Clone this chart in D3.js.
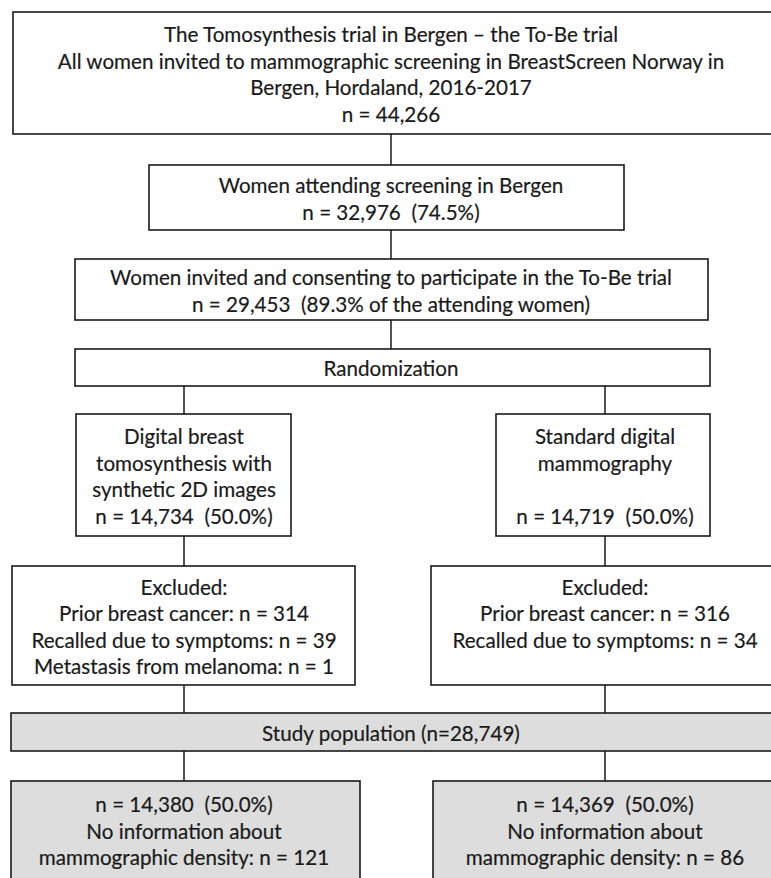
<!DOCTYPE html>
<html>
<head>
<meta charset="utf-8">
<script src="https://cdn.jsdelivr.net/npm/d3@7"></script>
<style>
  body { margin: 0; background: #fff; }
  svg text { white-space: pre; }
</style>
</head>
<body>
<div id="chart"></div>
<script>
// counts
const invitedN = 44266;
const attendingN = 32976, attendingPct = 74.5;
const consentN = 29453, consentPct = 89.3;
const armNames = ["DBT", "SDM"];
const armTitles = [["Digital breast", "tomosynthesis with", "synthetic 2D images"], ["Standard digital", "mammography", ""]];
const armN = [14734, 14719];
const armPct = [50.0, 50.0];
const priorCancer = [314, 316];
const recalledSymptoms = [39, 34];
const melanoma = [1, null];
const studyN = 28749;
const finalN = [14380, 14369];
const finalPct = [50.0, 50.0];
const noDensity = [121, 86];

const fmt = d3.format(",");
const pct = d3.format(".1f");

// node texts built from the arrays
const nodes = [
  { id: "invited", col: "center", fill: false, lines: [
      "The Tomosynthesis trial in Bergen \u2013 the To-Be trial",
      "All women invited to mammographic screening in BreastScreen Norway in",
      "Bergen, Hordaland, 2016-2017",
      `n = ${fmt(invitedN)}`] },
  { id: "attending", col: "center", fill: false, lines: [
      "Women attending screening in Bergen",
      `n = ${fmt(attendingN)}  (${pct(attendingPct)}%)`] },
  { id: "consenting", col: "center", fill: false, lines: [
      "Women invited and consenting to participate in the To-Be trial",
      `n = ${fmt(consentN)}  (${pct(consentPct)}% of the attending women)`] },
  { id: "random", col: "center", fill: false, lines: ["Randomization"] },
  { id: "study", col: "center", fill: true, lines: [`Study population (n=${fmt(studyN)})`] }
];
armNames.forEach((a, i) => {
  const col = i === 0 ? "left" : "right";
  nodes.push({ id: "arm" + a, col, fill: false,
    lines: armTitles[i].concat([`n = ${fmt(armN[i])}  (${pct(armPct[i])}%)`]) });
  const ex = ["Excluded:", `Prior breast cancer: n = ${priorCancer[i]}`,
              `Recalled due to symptoms: n = ${recalledSymptoms[i]}`];
  ex.push(melanoma[i] != null ? `Metastasis from melanoma: n = ${melanoma[i]}` : "");
  nodes.push({ id: "excl" + a, col, fill: false, lines: ex });
  nodes.push({ id: "final" + a, col, fill: true, lines: [
      `n = ${fmt(finalN[i])}  (${pct(finalPct[i])}%)`,
      "No information about",
      `mammographic density: n = ${noDensity[i]}`] });
});

const links = [
  ["invited", "attending"], ["attending", "consenting"], ["consenting", "random"],
  ["random", "armDBT"], ["random", "armSDM"],
  ["armDBT", "exclDBT"], ["armSDM", "exclSDM"],
  ["exclDBT", "study"], ["exclSDM", "study"],
  ["study", "finalDBT"], ["study", "finalSDM"]
];

// layout
const width = 771, height = 878;
const colX = d3.scaleOrdinal().domain(["left", "center", "right"]).range([184, 391, 605]);
const boxes = {
  invited:    { x0: 13,  x1: 775, y0: 12,  y1: 134 },
  attending:  { x0: 149, x1: 624, y0: 165, y1: 230 },
  consenting: { x0: 75,  x1: 708, y0: 259, y1: 320 },
  random:     { x0: 75,  x1: 710, y0: 349, y1: 386 },
  armDBT:     { x0: 76,  x1: 291, y0: 414, y1: 536 },
  armSDM:     { x0: 496, x1: 710, y0: 414, y1: 536 },
  exclDBT:    { x0: 12,  x1: 355, y0: 566, y1: 685 },
  exclSDM:    { x0: 431, x1: 775, y0: 566, y1: 685 },
  study:      { x0: 11,  x1: 775, y0: 713, y1: 751 },
  finalDBT:   { x0: 11,  x1: 360, y0: 781, y1: 879 },
  finalSDM:   { x0: 433, x1: 775, y0: 781, y1: 879 }
};
const lineH = 26.5, fontSize = 20.5;
const ink = "#1a1a1a";

const svg = d3.select("#chart").append("svg")
  .attr("width", width).attr("height", height)
  .style("font-family", "Lato, 'Open Sans', sans-serif");

// connectors (drawn first, boxes cover the ends)
const byId = Object.fromEntries(nodes.map(n => [n.id, n]));
svg.append("g").selectAll("line")
  .data(links)
  .join("line")
  .attr("x1", d => colX(byId[d[0]].col === "center" ? byId[d[1]].col : byId[d[0]].col))
  .attr("x2", d => colX(byId[d[0]].col === "center" ? byId[d[1]].col : byId[d[0]].col))
  .attr("y1", d => boxes[d[0]].y1)
  .attr("y2", d => boxes[d[1]].y0)
  .attr("stroke", ink).attr("stroke-width", 1.5);

const g = svg.append("g").selectAll("g")
  .data(nodes)
  .join("g");

g.append("rect")
  .attr("x", d => boxes[d.id].x0)
  .attr("y", d => boxes[d.id].y0)
  .attr("width", d => boxes[d.id].x1 - boxes[d.id].x0)
  .attr("height", d => boxes[d.id].y1 - boxes[d.id].y0)
  .attr("fill", d => d.fill ? "#dddddd" : "#fff")
  .attr("stroke", ink).attr("stroke-width", 1.6);

// text lines, centred vertically in the box
const texts = g.selectAll("text")
  .data(d => {
    const b = boxes[d.id];
    const cy = (b.y0 + b.y1) / 2 + 1.5;
    return d.lines.map((t, i) => ({ t, x: colX(d.col), y: cy + (i - (d.lines.length - 1) / 2) * lineH }));
  })
  .join("text")
  .attr("text-anchor", "middle")
  .attr("font-size", fontSize)
  .attr("fill", ink)
  .attr("stroke", ink)
  .attr("stroke-width", 0.2)
  .text(d => d.t);

// squeeze to the narrow face of the original
const probe = texts.filter(d => d.t.startsWith("All women")).node();
const k = probe ? 667 / probe.getComputedTextLength() : 1;
texts.attr("transform", d => `translate(${d.x},${d.y + fontSize * 0.36}) scale(${k},1)`);
</script>
</body>
</html>
